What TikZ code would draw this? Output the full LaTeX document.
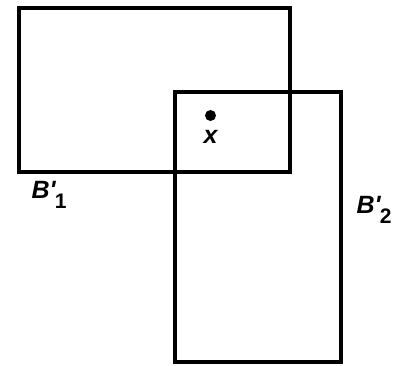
\documentclass[tikz,border=0pt]{standalone}
\usepackage{fontspec}
\setmainfont{Liberation Sans}
\usetikzlibrary{positioning}

\newcommand{\boxlab}[1]{B\textquotesingle\kern-0.03em\raisebox{-0.42em}{\fontsize{21}{23}\selectfont\upshape #1}}

\begin{document}
\begin{tikzpicture}[x=1pt, y=-1pt,
  boxA/.style={draw, line width=4pt},
  boxB/.style={draw, line width=3.4pt},
  lab/.style={font=\fontsize{25}{28}\selectfont\bfseries\itshape, inner sep=0pt},
  pt/.style={circle, fill, inner sep=0pt, minimum size=11pt}
]
\useasboundingbox (0,0) rectangle (396,365);

% the two boxes
\draw[boxA] (19,8) rectangle (290,172);
\draw[boxB] (175,92) rectangle (341,362);

% point x in the overlap
\node[pt] (px) at (210.5,115.5) {};
\node[lab, below=9pt of px] (xlab) {x};

% box labels
\node[lab] (lab1) at (49,195) {\boxlab{1}};
\node[lab] (lab2) at (374,210) {\boxlab{2}};
\end{tikzpicture}
\end{document}
